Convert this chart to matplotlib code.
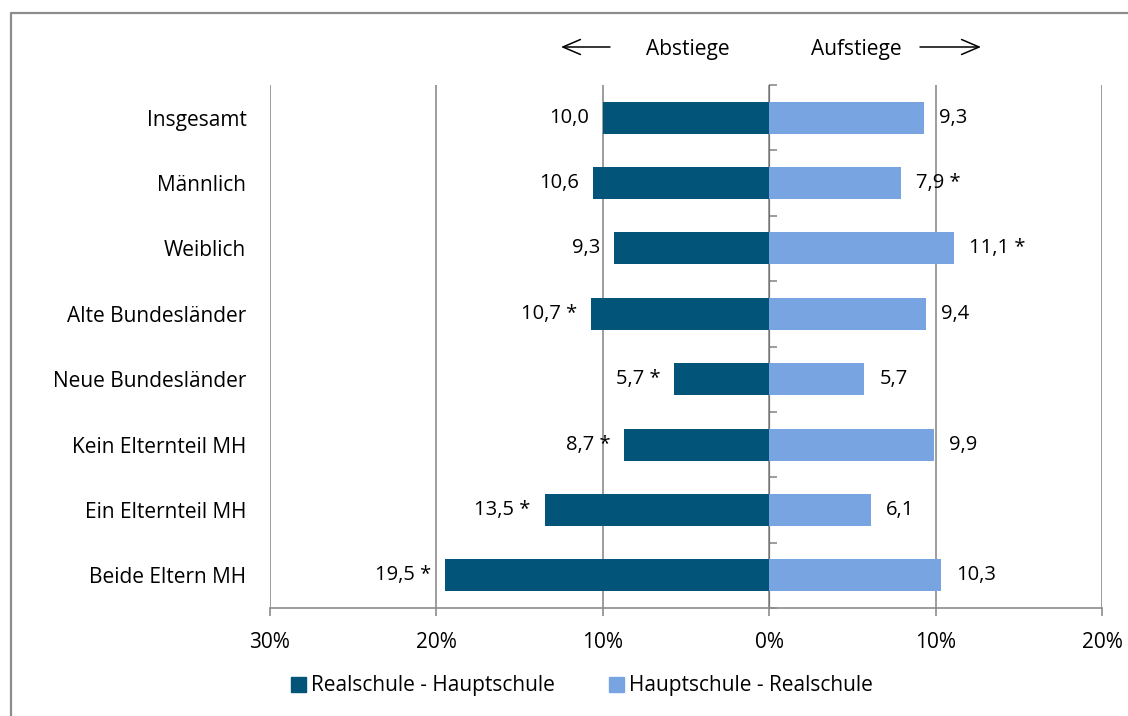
"""Bildungsauf- und -abstiege zwischen Haupt- und Realschule (Butterfly-Balken)."""

import matplotlib

matplotlib.use("Agg")
import matplotlib.pyplot as plt
from matplotlib.lines import Line2D
from matplotlib.patches import FancyArrowPatch, Patch

plt.rcParams["font.family"] = ["Open Sans", "DejaVu Sans"]

categories = ["Insgesamt", "Männlich", "Weiblich", "Alte Bundesländer",
              "Neue Bundesländer", "Kein Elternteil MH", "Ein Elternteil MH",
              "Beide Eltern MH"]
abstiege = [10.0, 10.6, 9.3, 10.7, 5.7, 8.7, 13.5, 19.5]  # Realschule -> Hauptschule
aufstiege = [9.3, 7.9, 11.1, 9.4, 5.7, 9.9, 6.1, 10.3]  # Hauptschule -> Realschule
abstiege_sig = [False, False, False, True, True, True, True, True]
aufstiege_sig = [False, True, True, False, False, False, False, False]
xticks = [-30, -20, -10, 0, 10, 20]
xticklabels = ["30%", "20%", "10%", "0%", "10%", "20%"]

DARK = "#025578"
LIGHT = "#78A5E1"
GRID = "#8C8C8C"
FS = 15
FS_VAL = 14.5


def fmt(v, sig):
    s = f"{v:.1f}".replace(".", ",")
    return s + " *" if sig else s


fig = plt.figure(figsize=(11.28, 7.16), dpi=100)
ax = fig.add_axes([270 / 1128, 1 - 608 / 716, (1102 - 270) / 1128, (608 - 85) / 716])

y = list(range(len(categories)))
ax.barh(y, [-v for v in abstiege], height=0.49, color=DARK, zorder=3)
ax.barh(y, aufstiege, height=0.49, color=LIGHT, zorder=3)

for yi, v, s in zip(y, abstiege, abstiege_sig):
    ax.annotate(fmt(v, s), (-v, yi), xytext=(-10, 0), textcoords="offset points",
                ha="right", va="center", fontsize=FS_VAL)
for yi, v, s in zip(y, aufstiege, aufstiege_sig):
    ax.annotate(fmt(v, s), (v, yi), xytext=(11, 0), textcoords="offset points",
                ha="left", va="center", fontsize=FS_VAL)

ax.set_xlim(-30, 20)
ax.set_ylim(len(categories) - 0.5, -0.5)
ax.set_xticks(xticks)
ax.set_xticklabels(xticklabels, fontsize=FS)
ax.set_yticks(y)
ax.set_yticklabels(categories, fontsize=FS)
ax.tick_params(axis="y", length=0, pad=17)
ax.tick_params(axis="x", length=6, width=1.2, color=GRID, pad=11)
ax.grid(axis="x", color=GRID, lw=1.2, zorder=0)
for side in ("left", "top", "right"):
    ax.spines[side].set_visible(False)
ax.spines["bottom"].set_color(GRID)
ax.spines["bottom"].set_linewidth(1.2)

# vertical axis at 0 with ticks between categories
zero = ax.secondary_yaxis(30 / 50)
zero.set_yticks([i - 0.5 for i in range(len(categories) + 1)])
zero.set_yticklabels([])
zero.tick_params(length=6, width=1.2, color=GRID)
zero.spines["left"].set_color(GRID)
zero.spines["left"].set_linewidth(1.6)

# Kopfzeile mit Pfeilen
fig.text(688 / 1128, 1 - 49 / 716, "Abstiege", ha="center", va="center", fontsize=FS)
fig.text(856 / 1128, 1 - 49 / 716, "Aufstiege", ha="center", va="center", fontsize=FS)
arrow = dict(arrowstyle="->,head_length=0.7,head_width=0.3", mutation_scale=18,
             lw=1.1, color="black", shrinkA=0, shrinkB=0, transform=fig.transFigure)
fig.add_artist(FancyArrowPatch((610 / 1128, 1 - 47 / 716), (561 / 1128, 1 - 47 / 716),
                               **arrow))
fig.add_artist(FancyArrowPatch((920 / 1128, 1 - 47 / 716), (981 / 1128, 1 - 47 / 716),
                               **arrow))

handles = [Patch(color=DARK, label="Realschule - Hauptschule"),
           Patch(color=LIGHT, label="Hauptschule - Realschule")]
fig.legend(handles=handles, loc="center", bbox_to_anchor=(582 / 1128, 1 - 686 / 716),
           ncol=2, frameon=False, fontsize=FS, handlelength=0.7, handleheight=0.7,
           handletextpad=0.25, columnspacing=2.6)

# Rahmen (rechts und unten abgeschnitten)
fig.add_artist(Line2D([11 / 1128, 11 / 1128, 1.0], [0.0, 1 - 13 / 716, 1 - 13 / 716],
                      transform=fig.transFigure, color=GRID, lw=1.6))

fig.savefig("out.png", dpi=100)
